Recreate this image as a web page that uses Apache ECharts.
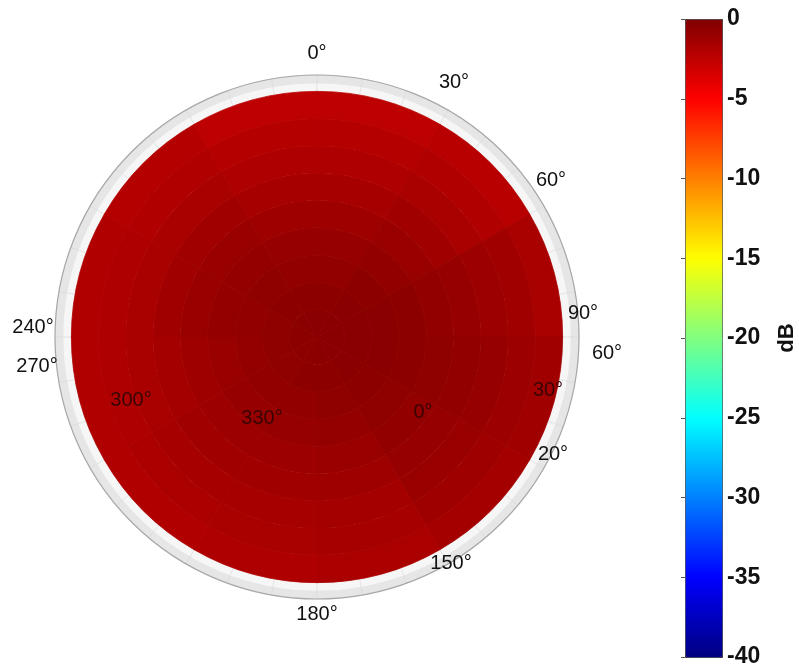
<!DOCTYPE html>
<html>
<head>
<meta charset="utf-8">
<script src="https://cdn.jsdelivr.net/npm/echarts@6/dist/echarts.min.js"></script>
<style>
  html, body { margin: 0; padding: 0; background: #fff; }
  #main { width: 799px; height: 669px; }
</style>
</head>
<body>
<div id="main"></div>
<script>
// ring edges (polar angle theta, deg) and sector edges (azimuth, deg, 0 = top, clockwise)
var ringEdges = [0, 10, 20, 30, 40, 50, 60, 70, 80, 90];
var sectorEdges = [0, 30, 60, 90, 120, 150, 180, 210, 240, 270, 300, 330, 360];

// gain in dB, one row per ring (centre outwards), one column per sector
var gainDb = [
    [-0.4, -0.4, -0.4, -0.4, -0.4, -0.4, -0.5, -0.5, -0.5, -0.5, -0.4, -0.4],
    [-0.5, -0.4, -0.4, -0.4, -0.4, -0.5, -0.5, -0.6, -0.6, -0.6, -0.5, -0.5],
    [-0.7, -0.5, -0.4, -0.4, -0.5, -0.6, -0.7, -0.7, -0.8, -0.7, -0.6, -0.7],
    [-0.9, -0.7, -0.5, -0.5, -0.6, -0.8, -0.9, -0.9, -1.0, -0.8, -0.8, -0.9],
    [-1.2, -1.0, -0.7, -0.6, -0.7, -1.0, -1.1, -1.1, -1.2, -1.0, -1.0, -1.2],
    [-1.5, -1.3, -0.9, -0.7, -0.9, -1.2, -1.3, -1.3, -1.4, -1.3, -1.3, -1.5],
    [-1.8, -1.6, -1.1, -0.9, -1.0, -1.4, -1.5, -1.5, -1.6, -1.6, -1.6, -1.8],
    [-2.1, -1.9, -1.3, -1.1, -1.2, -1.5, -1.6, -1.7, -1.8, -1.8, -1.9, -2.1],
    [-2.4, -2.2, -1.6, -1.3, -1.4, -1.7, -1.8, -1.9, -1.9, -1.9, -2.1, -2.4]
];

// angle labels of the 3D view
var angleLabels = ['0°', '30°', '60°', '90°', '60°', '30°', '0°', '20°', '240°', '270°', '300°', '330°', '150°', '180°'];
var labelOnDisk = [false, false, false, false, false, true, true, false, false, false, true, true, false, false];
var labelPos = [
    [317, 53], [454, 82], [551, 180], [583, 313], [607, 353], [548, 390], [423, 412],
    [553, 454], [33, 327], [37, 366], [131, 400], [262, 418], [451, 563], [317, 614]
];

// colorbar
var cbarMin = -40, cbarMax = 0, cbarStep = 5;
var jet = ['#000080', '#0000ff', '#0080ff', '#00ffff', '#80ff80', '#ffff00', '#ff8000', '#ff0000', '#800000'];

var cells = [];
for (var i = 0; i < gainDb.length; i++) {
    for (var j = 0; j < gainDb[i].length; j++) {
        cells.push([ringEdges[i], ringEdges[i + 1], sectorEdges[j], sectorEdges[j + 1], gainDb[i][j]]);
    }
}

var myChart = echarts.init(document.getElementById('main'));

var texts = angleLabels.map(function (t, k) {
    return {
        type: 'text',
        x: labelPos[k][0],
        y: labelPos[k][1],
        style: {
            text: t,
            align: 'center',
            verticalAlign: 'middle',
            font: '20px "Liberation Sans", Arial, sans-serif',
            fill: labelOnDisk[k] ? '#3a0404' : '#111'
        },
        z: 100
    };
});

var option = {
    backgroundColor: '#fff',
    animation: false,
    polar: {
        center: [317, 337],
        radius: 262
    },
    angleAxis: {
        type: 'value',
        min: 0,
        max: 360,
        interval: 10,
        startAngle: 90,
        clockwise: true,
        axisLine: { show: true, lineStyle: { color: '#a8a8a8', width: 1.2 } },
        axisTick: { show: false },
        axisLabel: { show: false },
        splitLine: { show: true, lineStyle: { color: '#d6d6d6', width: 0.6 } }
    },
    radiusAxis: {
        type: 'value',
        min: 0,
        max: 96,
        interval: 3,
        axisLine: { show: false },
        axisTick: { show: false },
        axisLabel: { show: false },
        splitLine: { show: true, lineStyle: { color: '#d2d2d2', width: 0.6 } },
        splitArea: { show: true, areaStyle: { color: ['#f6f6f6', '#e6e6e6'] } }
    },
    // empty grid, only for the colorbar tick labels
    grid: {
        left: 685,
        top: 19,
        width: 37,
        height: 638
    },
    xAxis: {
        type: 'value',
        min: 0,
        max: 1,
        show: false
    },
    yAxis: {
        type: 'value',
        position: 'right',
        min: cbarMin,
        max: cbarMax,
        interval: cbarStep,
        name: 'dB',
        nameLocation: 'middle',
        nameRotate: 90,
        nameGap: 56,
        nameTextStyle: { fontSize: 22, fontWeight: 'bold', color: '#111', fontFamily: 'Liberation Sans' },
        axisLine: { show: false },
        axisTick: { show: true, inside: true, length: 4, lineStyle: { color: '#555' } },
        splitLine: { show: false },
        axisLabel: { margin: 7, fontSize: 23, fontWeight: 'bold', color: '#111', fontFamily: 'Liberation Sans' }
    },
    visualMap: {
        type: 'continuous',
        seriesIndex: 0,
        dimension: 4,
        min: cbarMin,
        max: cbarMax,
        left: 685,
        top: 19,
        itemWidth: 37,
        itemHeight: 638,
        padding: 0,
        borderColor: '#333',
        borderWidth: 1,
        calculable: false,
        text: null,
        showLabel: false,
        inRange: { color: jet }
    },
    graphic: texts,
    series: [
        {
            name: 'gain',
            type: 'custom',
            coordinateSystem: 'polar',
            data: cells,
            renderItem: function (params, api) {
                var cs = params.coordSys;
                var pIn = api.coord([api.value(0), 0]);
                var pOut = api.coord([api.value(1), 0]);
                var rin = Math.hypot(pIn[0] - cs.cx, pIn[1] - cs.cy);
                var rout = Math.hypot(pOut[0] - cs.cx, pOut[1] - cs.cy);
                var color = api.visual('color');
                return {
                    type: 'sector',
                    shape: {
                        cx: cs.cx,
                        cy: cs.cy,
                        r0: rin,
                        r: rout,
                        startAngle: (api.value(2) - 90) * Math.PI / 180,
                        endAngle: (api.value(3) - 90) * Math.PI / 180,
                        clockwise: true
                    },
                    style: { fill: color, stroke: color, lineWidth: 0.8 }
                };
            }
        }
    ]
};

myChart.setOption(option);
</script>
</body>
</html>
